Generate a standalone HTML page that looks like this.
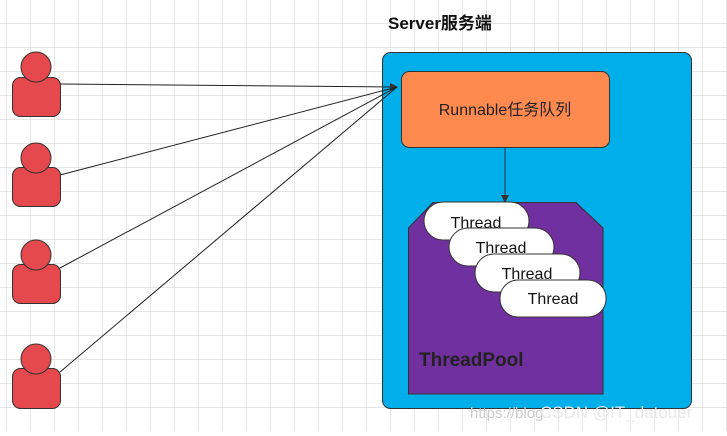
<!DOCTYPE html><html><head><style>body{margin:0;width:727px;height:431px;overflow:hidden;background:#fff;font-family:"Liberation Sans","Noto Sans CJK SC",sans-serif}</style></head><body>
<svg width="727" height="431" xmlns="http://www.w3.org/2000/svg">
<defs><pattern id="g" x="6" y="23" width="24" height="24" patternUnits="userSpaceOnUse"><path d="M0 0H24M0 0V24" stroke="#d8d8d8" stroke-width="1.2"/></pattern>
<marker id="a" markerWidth="8" markerHeight="8" refX="7" refY="4" orient="auto" markerUnits="userSpaceOnUse"><path d="M0 0L8 4L0 8z" fill="#333"/></marker></defs>
<rect width="727" height="431" fill="url(#g)"/>
<rect x="382.5" y="52.5" width="309" height="356" rx="8" fill="#00AEEA" stroke="#333"/>
<text x="388" y="29" font-size="17" font-weight="bold" fill="#111">Server服务端</text>
<rect x="401.5" y="71.5" width="208" height="76" rx="8" fill="#FF8A50" stroke="#333"/>
<text x="505" y="115" font-size="16" text-anchor="middle" fill="#222">Runnable任务队列</text>
<line x1="505" y1="147" x2="505" y2="202" stroke="#333" marker-end="url(#a)"/>
<path d="M433 202.5H576L603 228V394H408.5V228Z" fill="#70309F" stroke="#333"/>
<g font-size="16" fill="#111" text-anchor="middle" stroke="#333">
<rect x="424" y="202" width="105" height="38" rx="19" fill="#fff"/><text x="476" y="228" stroke="none">Thread</text>
<rect x="449" y="228" width="105" height="38" rx="19" fill="#fff"/><text x="501" y="253" stroke="none">Thread</text>
<rect x="475" y="254" width="105" height="38" rx="19" fill="#fff"/><text x="527" y="279" stroke="none">Thread</text>
<rect x="500" y="280" width="106" height="37" rx="18" fill="#fff"/><text x="553" y="304" stroke="none">Thread</text>
</g>
<text x="419" y="366" font-size="19" font-weight="bold" fill="#222">ThreadPool</text>
<g stroke="#222" stroke-width="1"><line x1="60" y1="84" x2="397" y2="87" marker-end="url(#a)"/><line x1="60" y1="175" x2="397" y2="87"/><line x1="60" y1="268" x2="397" y2="87"/><line x1="60" y1="372" x2="397" y2="87"/></g>
<g fill="#E5484D" stroke="#333">
<rect x="12.5" y="77.5" width="48" height="39" rx="8"/><circle cx="36" cy="67" r="15"/>
<rect x="12.5" y="167.5" width="48" height="39" rx="8"/><circle cx="36" cy="158" r="15"/>
<rect x="12.5" y="264.5" width="48" height="39" rx="8"/><circle cx="36" cy="255" r="15"/>
<rect x="12.5" y="368.5" width="48" height="40" rx="8"/><circle cx="36" cy="359" r="15"/>
</g>
<text x="470" y="418" font-size="15" fill="#ccc">https://blog</text>
<text x="540" y="418" font-size="17" fill="#e8e8e8">CSDN @IT_datouer</text>
</svg></body></html>
